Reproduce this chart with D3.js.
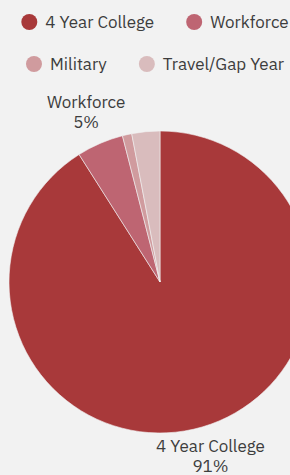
<!DOCTYPE html>
<html><head><meta charset="utf-8">
<script src="https://cdn.jsdelivr.net/npm/d3@7"></script>
<style>
html,body{margin:0;padding:0;background:#f2f2f2;overflow:hidden;}
svg{display:block;font-family:"IBM Plex Sans","Noto Sans","Open Sans",sans-serif;}
</style></head>
<body>
<svg id="c" width="290" height="475"></svg>
<script>
const categories = ["4 Year College", "Workforce", "Military", "Travel/Gap Year"];
const values = [91, 5, 1, 3];
const colors = ["#a8393a", "#be6572", "#d09b9e", "#d9bcbd"];
const shownLabels = ["4 Year College", "Workforce"];

const svg = d3.select("#c");
const cx = 160, cy = 282, R = 151, labelR = 186;
const textColor = "#3d3d3d";
const fs = 17;

const data = categories.map((c, i) => ({name: c, value: values[i], color: colors[i]}));
const pie = d3.pie().value(d => d.value).sort(null);
const arcs = pie(data);
const arc = d3.arc().innerRadius(0).outerRadius(R);

const g = svg.append("g").attr("transform", `translate(${cx},${cy})`);
g.selectAll("path").data(arcs).join("path")
  .attr("d", arc).attr("fill", d => d.data.color)
  .attr("stroke", "#f2f2f2").attr("stroke-width", 0.6);

const lab = g.selectAll("text.lbl").data(arcs.filter(d => shownLabels.includes(d.data.name))).join("text")
  .attr("class", "lbl")
  .attr("text-anchor", "middle")
  .attr("font-size", fs).attr("fill", textColor)
  .attr("transform", d => {
    const a = (d.startAngle + d.endAngle) / 2;
    const rr = Math.cos(a) < 0 ? labelR - 5 : labelR;
    return `translate(${rr * Math.sin(a)},${-rr * Math.cos(a)})`;
  });
lab.append("tspan").attr("x", 0).attr("dy", "-0.2em").text(d => d.data.name);
lab.append("tspan").attr("x", 0).attr("dy", "1.18em").text(d => Math.round(d.data.value / d3.sum(values) * 100) + "%");

// legend
const rows = [[0, 1], [2, 3]];
const rowY = [22, 64];
const r = 8, gapCT = 8, itemGap = 32;
const legendCenter = 155;
rows.forEach((row, ri) => {
  const lg = svg.append("g");
  let x = 0;
  row.forEach((idx) => {
    const item = lg.append("g").attr("transform", `translate(${x},${rowY[ri]})`);
    item.append("circle").attr("cx", r).attr("cy", 0).attr("r", r).attr("fill", colors[idx]);
    const t = item.append("text").attr("x", 2 * r + gapCT).attr("y", 0).attr("dy", "0.35em")
      .attr("font-size", fs).attr("fill", textColor).text(categories[idx]);
    const tw = t.node().getComputedTextLength();
    x += 2 * r + gapCT + tw + itemGap;
  });
  const total = x - itemGap;
  lg.attr("transform", `translate(${legendCenter - total / 2},0)`);
});
</script>
</body></html>
